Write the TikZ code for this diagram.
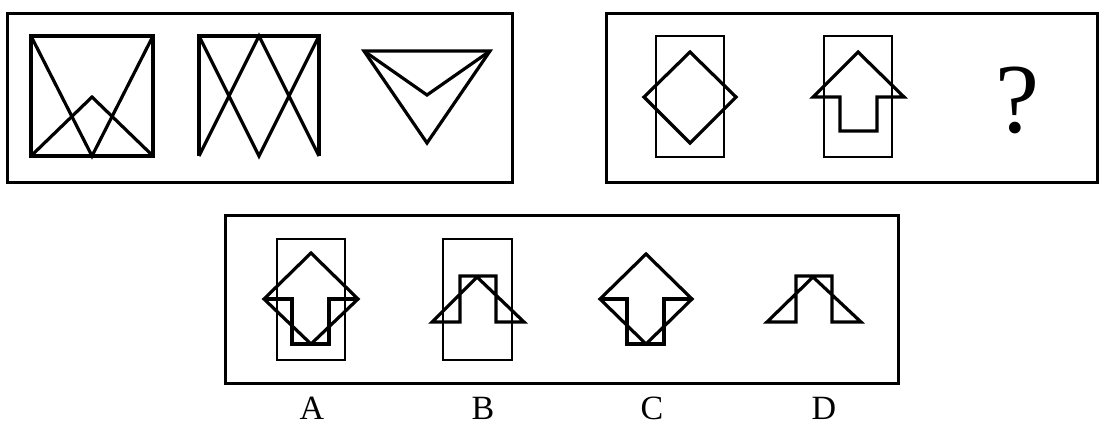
\documentclass[tikz,border=0pt]{standalone}
\usepackage{fontspec}
\setmainfont{Liberation Serif}
\begin{document}
\begin{tikzpicture}[x=1pt,y=-1pt,
  fig/.style={line width=3.2pt,line join=miter,line cap=butt},
  thin/.style={line width=2.8pt},
  panel/.style={line width=3pt},
  lbl/.style={font=\fontsize{34}{34}\selectfont,anchor=base,inner sep=0pt}]
\useasboundingbox (0,0) rectangle (1102,424);
% panels
\draw[panel] (7,13) rectangle (512,182);
\draw[panel] (606,13) rectangle (1097,182);
\draw[panel] (225,215) rectangle (898,383);
% figure 1
\draw[fig] (31,36) rectangle (153,156);
\draw[fig] (31,36) -- (92,156) -- (153,36);
\draw[fig] (31,156) -- (92,97) -- (153,156);
% figure 2
\draw[fig] (199,156) -- (199,36) -- (319,36) -- (319,156);
\draw[fig] (199,36) -- (259,156) -- (319,36);
\draw[fig] (199,156) -- (259,36) -- (319,156);
% figure 3
\draw[fig] (364,51) -- (490,51) -- (427,143) -- cycle;
\draw[fig] (364,51) -- (427,95) -- (490,51);
% figure 4
\draw[thin] (656,36) rectangle (724,157);
\draw[fig] (690,52) -- (736,97) -- (690,143) -- (644,97) -- cycle;
% figure 5
\draw[thin] (824,36) rectangle (892,157);
\draw[fig] (858,52) -- (904,97) -- (877,97) -- (877,131) -- (840,131) -- (840,97) -- (813,97) -- cycle;
% question mark
\node[lbl,font=\fontsize{99}{99}\selectfont] (q) at (1017,132) {?};
% option A
\draw[thin] (277,239) rectangle (345,360);
\draw[fig] (311,253) -- (358,299) -- (311,344) -- (264,299) -- cycle;
\draw[fig] (264,299) -- (292,299) -- (292,344) -- (329,344) -- (329,299) -- (358,299);
% option B
\draw[thin] (443,239) rectangle (512,360);
\draw[fig] (432,322) -- (477,277) -- (524,322) -- (496,322) -- (496,276) -- (460,276) -- (460,322) -- cycle;
% option C
\draw[fig] (646,254) -- (692,299) -- (646,344) -- (600,299) -- cycle;
\draw[fig] (600,299) -- (627,299) -- (627,344) -- (664,344) -- (664,299) -- (692,299);
% option D
\draw[fig] (767,322) -- (813,277) -- (861,322) -- (832,322) -- (832,276) -- (796,276) -- (796,322) -- cycle;
% labels
\node[lbl] (la) at (312,419) {A};
\node[lbl] (lb) at (483,419) {B};
\node[lbl] (lc) at (652,419) {C};
\node[lbl] (ld) at (824,419) {D};
\end{tikzpicture}
\end{document}
